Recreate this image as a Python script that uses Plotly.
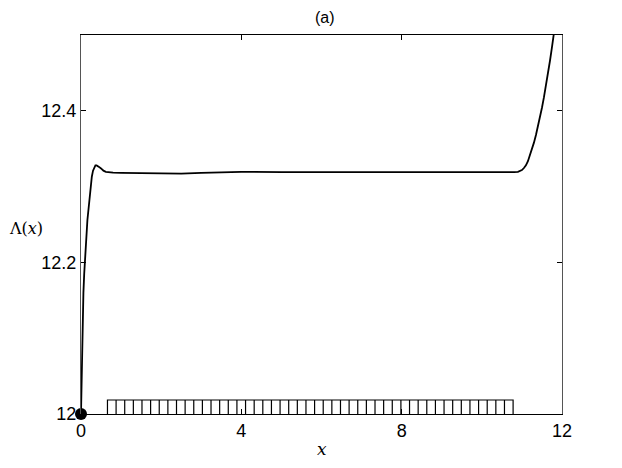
import numpy as np
import plotly.graph_objects as go

# curve Lambda(x)
x_curve = [0.0, 0.01, 0.02, 0.04, 0.06, 0.08, 0.1, 0.13, 0.16, 0.21, 0.24, 0.27, 0.3, 0.33,
           0.36, 0.39, 0.42, 0.45, 0.5, 0.56, 0.62, 0.7, 0.8, 1.0, 1.37, 1.7, 2.1, 2.5,
           3.0, 3.5, 4.0, 5.0, 6.0, 7.0, 8.0, 9.0, 10.0, 10.5, 10.8, 10.9, 10.95, 11.0,
           11.05, 11.1, 11.15, 11.2, 11.25, 11.3, 11.35, 11.4, 11.45, 11.5, 11.55, 11.6,
           11.65, 11.7, 11.75, 11.8]
y_curve = [12.0, 12.035, 12.07, 12.12, 12.16, 12.185, 12.205, 12.232, 12.256, 12.282, 12.3,
           12.313, 12.321, 12.326, 12.328, 12.328, 12.3275, 12.326, 12.324, 12.321,
           12.3195, 12.3188, 12.3185, 12.3182, 12.318, 12.3175, 12.317, 12.3172, 12.318,
           12.319, 12.3195, 12.3192, 12.319, 12.319, 12.319, 12.319, 12.319, 12.319,
           12.319, 12.3195, 12.3202, 12.3218, 12.3245, 12.328, 12.3335, 12.341, 12.349,
           12.358, 12.368, 12.379, 12.391, 12.404, 12.418, 12.433, 12.449, 12.466, 12.484,
           12.503]

# hatched strip along the bottom
strip_start = 0.66
strip_end = 10.78
strip_height = 0.0185
n_cells = 47

# start point
dot_x = [0]
dot_y = [12]

x_ticks = [0, 4, 8, 12]
y_ticks = [12, 12.2, 12.4]
y_tick_text = ["12", "12.2", "12.4"]

fig = go.Figure()

# strip: outline + vertical cell lines
edges = np.linspace(strip_start, strip_end, n_cells + 1)
sx = [strip_start, strip_start, strip_end, strip_end]
sy = [12, 12 + strip_height, 12 + strip_height, 12]
for e in edges[1:-1]:
    sx += [None, e, e]
    sy += [None, 12, 12 + strip_height]
fig.add_trace(go.Scatter(x=sx, y=sy, mode="lines",
                         line=dict(color="black", width=1.2), hoverinfo="skip"))

fig.add_trace(go.Scatter(x=x_curve, y=y_curve, mode="lines",
                         line=dict(color="black", width=1.8)))

fig.add_trace(go.Scatter(x=dot_x, y=dot_y, mode="markers",
                         marker=dict(color="black", size=12), cliponaxis=False))

# page body has an 8px margin, so the figure is a bit smaller than the window
fig.update_layout(
    width=614, height=460,
    margin=dict(l=73, r=60, t=27, b=54),
    plot_bgcolor="white", paper_bgcolor="white",
    showlegend=False,
    font=dict(family="Liberation Sans", size=18, color="black"),
    title=dict(text="(a)", x=0.516, xanchor="center", y=0.98, yanchor="middle",
               font=dict(family="Liberation Sans", size=16)),
)
fig.update_xaxes(range=[0, 12], tickvals=x_ticks, ticks="inside", ticklen=5,
                 tickcolor="black", showline=True, linecolor="black", linewidth=1.2,
                 mirror="ticks", showgrid=False, zeroline=False)
fig.update_yaxes(range=[12, 12.5], tickvals=y_ticks, ticktext=y_tick_text,
                 ticks="inside", ticklen=5, tickcolor="black", showline=True,
                 linecolor="#555555", linewidth=1.2, mirror="ticks",
                 showgrid=False, zeroline=False)

fig.add_annotation(text="<i>x</i>", xref="paper", yref="paper", x=0.5, y=-0.092,
                   showarrow=False, yanchor="middle",
                   font=dict(family="DejaVu Serif", size=17))
fig.add_annotation(text="Λ(<i>x</i>)", xref="paper", yref="y", x=-0.115, y=12.245,
                   showarrow=False, xanchor="center",
                   font=dict(family="DejaVu Serif", size=16))

fig.write_html("out.html")
